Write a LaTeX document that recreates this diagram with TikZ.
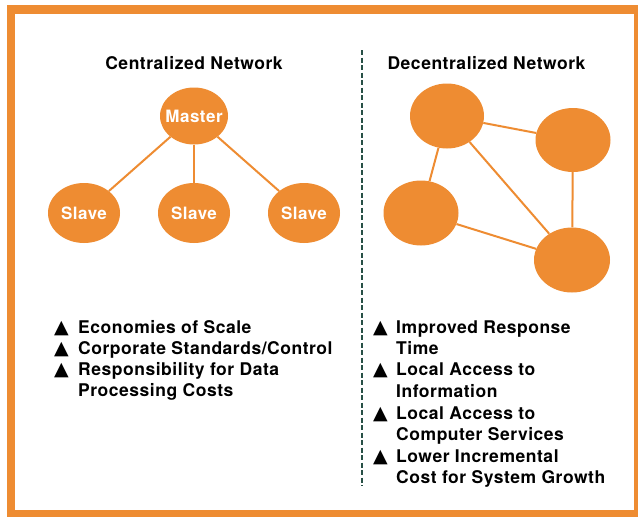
\documentclass[tikz,border=0pt]{standalone}
\usepackage{fontspec}
\setmainfont{TeX Gyre Heros}[LetterSpace=3]
\newfontfamily\symfont{DejaVu Sans}
\usetikzlibrary{shapes.geometric}
\definecolor{hporange}{RGB}{238,140,50}
\definecolor{hpdash}{RGB}{40,80,70}
\tikzset{
  blob/.style={ellipse, fill=hporange, inner sep=0pt, minimum width=72pt, minimum height=60pt},
  blobtext/.style={text=white, font=\fontsize{17}{20}\selectfont\bfseries, inner sep=0pt},
  link/.style={draw=hporange, line width=2pt},
  title/.style={font=\fontsize{17.5}{21}\selectfont\bfseries, anchor=base},
  item/.style={font=\fontsize{17.5}{21}\selectfont\bfseries, anchor=base west, inner sep=0pt},
  bul/.style={font=\fontsize{19}{21}\symfont, anchor=base west, inner sep=0pt}
}
\begin{document}
\begin{tikzpicture}[x=1pt,y=-1pt]
\useasboundingbox (0,0) rectangle (638,517);
\fill[white] (0,0) rectangle (638,517);
% frame
\fill[hporange] (7,5) rectangle (638,517);
\fill[white] (15,14) rectangle (634,510);
% titles
\node[title] (t1) at (194,69) {Centralized Network};
\node[title] (t2) at (486.5,69) {Decentralized Network};
% divider
\coordinate (dtop) at (362,50);
\coordinate (dbot) at (362,486);
\draw[hpdash, line width=1.2pt, dash pattern=on 5pt off 2.5pt] (dtop) -- (dbot);
% centralized
\node[blob, minimum width=68pt, minimum height=57pt] (m) at (194,116) {};
\node[blob] (s1) at (84,213) {};
\node[blob] (s2) at (194,213) {};
\node[blob] (s3) at (304,213) {};
\draw[link] (m) -- (s1);
\draw[link] (m) -- (s2);
\draw[link] (m) -- (s3);
\node[blobtext] (mt) at (m.center) {Master};
\node[blobtext] (s1t) at (s1.center) {Slave};
\node[blobtext] (s2t) at (s2.center) {Slave};
\node[blobtext] (s3t) at (s3.center) {Slave};
% decentralized
\node[blob, minimum width=74pt, minimum height=65pt] (a) at (447,116) {};
\node[blob, minimum width=75pt, minimum height=64pt] (b) at (573,140) {};
\node[blob, minimum width=75pt, minimum height=65pt] (c) at (421,213) {};
\node[blob, minimum width=76pt, minimum height=65pt] (d) at (572,260) {};
\draw[link] (a) -- (b);
\draw[link] (a) -- (c);
\draw[link] (a) -- (d);
\draw[link] (b) -- (d);
\draw[link] (c) -- (d);
% left list
\node[bul] (lb1) at (54,333) {▲};
\node[item] (l1) at (78,333) {Economies of Scale};
\node[bul] (lb2) at (54,354) {▲};
\node[item] (l2) at (78,354) {Corporate Standards/Control};
\node[bul] (lb3) at (54,375) {▲};
\node[item] (l3) at (78,375) {Responsibility for Data};
\node[item] (l3b) at (78,396) {Processing Costs};
% right list
\node[bul] (rb1) at (373,333) {▲};
\node[item] (r1) at (396,333) {Improved Response};
\node[item] (r1b) at (396,354) {Time};
\node[bul] (rb2) at (373,375) {▲};
\node[item] (r2) at (396,375) {Local Access to};
\node[item] (r2b) at (396,397) {Information};
\node[bul] (rb3) at (373,419) {▲};
\node[item] (r3) at (396,419) {Local Access to};
\node[item] (r3b) at (396,440) {Computer Services};
\node[bul] (rb4) at (373,462) {▲};
\node[item] (r4) at (396,462) {Lower Incremental};
\node[item] (r4b) at (396,483) {Cost for System Growth};
\end{tikzpicture}
\end{document}
